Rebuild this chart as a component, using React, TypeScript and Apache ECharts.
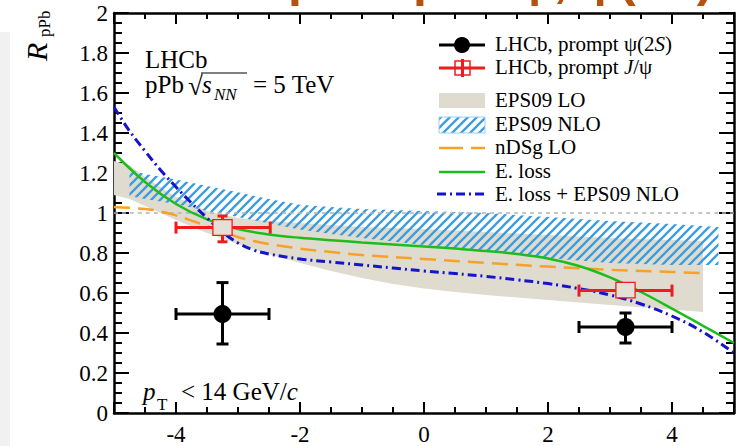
import React, { useEffect, useRef } from 'react';
import * as echarts from 'echarts';

// ---- data: LHCb prompt psi(2S)
const psiX = [-3.25, 3.25];
const psiY = [0.495, 0.43];
const psiXLo = [-4.0, 2.5];
const psiXHi = [-2.5, 4.0];
const psiYLo = [0.345, 0.35];
const psiYHi = [0.652, 0.5];

// ---- data: LHCb prompt J/psi
const jpsiX = [-3.25, 3.25];
const jpsiY = [0.927, 0.612];
const jpsiXLo = [-4.0, 2.5];
const jpsiXHi = [-2.48, 4.0];
const jpsiYLo = [0.856, 0.6];
const jpsiYHi = [0.985, 0.63];
const jpsiSysLo = [0.888, 0.576];
const jpsiSysHi = [0.967, 0.653];

// ---- EPS09 LO band
const loX = [-5, -4.75, -4.5, -4, -3.5, -3, -2.5, -2, -1.5, -1, -0.5, 0, 0.5, 1, 2, 3, 4, 4.5];
const loLow = [1.09, 1.07, 1.035, 0.965, 0.9, 0.845, 0.795, 0.75, 0.71, 0.675, 0.645, 0.622, 0.605, 0.59, 0.565, 0.54, 0.517, 0.505];
const loHigh = [1.26, 1.24, 1.18, 1.08, 1.01, 0.975, 0.96, 0.95, 0.94, 0.93, 0.925, 0.92, 0.912, 0.905, 0.89, 0.875, 0.865, 0.86];

// ---- EPS09 NLO band
const nloX = [-4.75, -4.5, -4, -3.5, -3, -2.5, -2, -1.5, -1, 0, 1, 2, 3, 4, 4.75];
const nloLow = [1.085, 1.07, 1.045, 1.01, 0.98, 0.948, 0.917, 0.895, 0.875, 0.84, 0.81, 0.775, 0.75, 0.74, 0.74];
const nloHigh = [1.215, 1.195, 1.168, 1.135, 1.104, 1.07, 1.041, 1.03, 1.02, 1.01, 1.0, 0.98, 0.96, 0.945, 0.93];

// ---- nDSg LO
const ndsgX = [-5, -4.5, -4.25, -4, -3.75, -3.5, -3.25, -3, -2.75, -2.5, -2, -1.5, -1, 0, 1, 2, 3, 4, 4.5];
const ndsgY = [1.03, 1.02, 1.008, 0.988, 0.962, 0.935, 0.906, 0.88, 0.86, 0.845, 0.822, 0.805, 0.79, 0.77, 0.75, 0.732, 0.716, 0.705, 0.7];

// ---- E. loss
const elossX = [-5, -4.5, -4, -3.5, -3, -2.5, -2, -1.5, -1, -0.5, 0, 0.5, 1, 1.5, 2, 2.5, 3, 3.5, 4, 4.5, 5];
const elossY = [1.3, 1.155, 1.045, 0.968, 0.92, 0.893, 0.876, 0.864, 0.853, 0.843, 0.833, 0.822, 0.81, 0.795, 0.773, 0.735, 0.678, 0.605, 0.522, 0.436, 0.35];

// ---- E. loss + EPS09 NLO
const elNloX = [-5, -4.75, -4.5, -4.25, -4, -3.75, -3.5, -3.25, -3, -2.75, -2.5, -2, -1.5, -1, -0.5, 0, 0.5, 1, 1.5, 2, 2.5, 3, 3.5, 4, 4.5, 5];
const elNloY = [1.53, 1.41, 1.31, 1.215, 1.13, 1.05, 0.975, 0.905, 0.85, 0.815, 0.795, 0.77, 0.755, 0.74, 0.725, 0.71, 0.697, 0.683, 0.666, 0.647, 0.622, 0.59, 0.545, 0.485, 0.405, 0.3];

// ---- reference line at unity
const refX = [-5, 5];
const refY = [1, 1];

const SERIF = '"Liberation Serif", "Times New Roman", serif';
const GRAY = '#dfdbcf';
const BLUE_HATCH = '#3a9de0';
const ORANGE = '#f5a12a';
const GREEN = '#1ebd1e';
const BLUE = '#1414cc';
const RED = '#ee1c1c';

const hatchSvg =
  '<svg xmlns="http://www.w3.org/2000/svg" width="9" height="9">' +
  '<path d="M-2,2 L2,-2 M0,9 L9,0 M7,11 L11,7" stroke="' + BLUE_HATCH + '" stroke-width="2.3" fill="none"/></svg>';
const hatchUrl = 'data:image/svg+xml;charset=utf-8,' + encodeURIComponent(hatchSvg);
const hatchFill: any = { image: hatchUrl, repeat: 'repeat', imageWidth: 9, imageHeight: 9 };

const zip = (xs: number[], ys: number[]) => xs.map((x, i) => [x, ys[i]]);

function bandSeries(name: string, xs: number[], lo: number[], hi: number[], fill: any, z: number) {
  return {
    type: 'custom',
    name,
    z,
    silent: true,
    data: xs.map((x, i) => [x, lo[i], hi[i]]),
    encode: { x: 0, y: [1, 2] },
    renderItem: (params: any, api: any) => {
      if (params.dataIndex !== 0) return null;
      const pts: number[][] = [];
      for (let i = 0; i < xs.length; i++) pts.push(api.coord([xs[i], hi[i]]));
      for (let i = xs.length - 1; i >= 0; i--) pts.push(api.coord([xs[i], lo[i]]));
      return { type: 'polygon', shape: { points: pts }, style: { fill, stroke: null } };
    },
  };
}

const txt = (text: string, x: number, y: number, font: string, extra: any = {}) => ({
  type: 'text',
  x,
  y,
  z: 100,
  style: { text, font, fill: '#000', textAlign: 'left', textVerticalAlign: 'middle', ...extra },
});

const gline = (x1: number, y1: number, x2: number, y2: number, stroke: string, lineWidth: number, lineDash?: number[]) => ({
  type: 'line',
  z: 100,
  shape: { x1, y1, x2, y2 },
  style: { stroke, lineWidth, lineDash },
});

export default function App() {
  const ref = useRef<HTMLDivElement>(null);
  useEffect(() => {
    document.body.style.margin = '0';
    if (!ref.current) return;
    const chart = echarts.init(ref.current, undefined, { renderer: 'svg' });

    const axisLine = { show: true, onZero: false, lineStyle: { color: '#000', width: 2.5 } };
    const tickStyle = { color: '#000', width: 2 };
    const xAxisBase = {
      type: 'value',
      min: -5,
      max: 5,
      splitNumber: 5,
      axisLine,
      splitLine: { show: false },
      axisTick: { show: true, inside: true, length: 11, lineStyle: tickStyle },
      minorTick: { show: true, splitNumber: 4, length: 6, lineStyle: tickStyle },
    };
    const yAxisBase = {
      type: 'value',
      min: 0,
      max: 2,
      interval: 0.2,
      axisLine,
      splitLine: { show: false },
      axisTick: { show: true, inside: true, length: 15, lineStyle: tickStyle },
      minorTick: { show: true, splitNumber: 4, length: 8, lineStyle: tickStyle },
    };
    const labelStyle = { fontSize: 23, fontFamily: SERIF, color: '#000' };

    const lineSeries = (name: string, xs: number[], ys: number[], color: string, width: number, type: any, z: number) => ({
      type: 'line',
      name,
      z,
      data: zip(xs, ys),
      smooth: 0.4,
      showSymbol: false,
      symbol: 'none',
      silent: true,
      lineStyle: { color, width, type },
    });

    const option: any = {
      animation: false,
      grid: { left: 114, right: 10, top: 13, bottom: 29, containLabel: false },
      xAxis: [
        {
          ...xAxisBase,
          position: 'bottom',
          axisLabel: { ...labelStyle, margin: 10, showMinLabel: false, showMaxLabel: false },
        },
        { ...xAxisBase, position: 'top', axisLabel: { show: false } },
      ],
      yAxis: [
        { ...yAxisBase, position: 'left', axisLabel: { ...labelStyle, margin: 6 } },
        { ...yAxisBase, position: 'right', axisLabel: { show: false } },
      ],
      series: [
        bandSeries('EPS09 LO', loX, loLow, loHigh, GRAY, 1),
        bandSeries('EPS09 NLO', nloX, nloLow, nloHigh, hatchFill, 2),
        lineSeries('unity', refX, refY, '#b4b4b4', 1.5, [4, 4], 3),
        lineSeries('nDSg LO', ndsgX, ndsgY, ORANGE, 2.5, [16, 8], 4),
        lineSeries('E. loss', elossX, elossY, GREEN, 2.5, 'solid', 5),
        lineSeries('E. loss + EPS09 NLO', elNloX, elNloY, BLUE, 3, [9, 4, 2, 4], 6),
        {
          type: 'custom',
          name: 'LHCb, prompt J/psi',
          z: 10,
          silent: true,
          data: zip(jpsiX, jpsiY),
          encode: { x: 0, y: 1 },
          renderItem: (params: any, api: any) => {
            const i = params.dataIndex;
            const l = api.coord([jpsiXLo[i], jpsiY[i]]);
            const r = api.coord([jpsiXHi[i], jpsiY[i]]);
            const t = api.coord([jpsiX[i], jpsiYHi[i]]);
            const b = api.coord([jpsiX[i], jpsiYLo[i]]);
            const bl = api.coord([jpsiX[i] - 0.155, jpsiSysLo[i]]);
            const tr = api.coord([jpsiX[i] + 0.155, jpsiSysHi[i]]);
            const st = { stroke: RED, lineWidth: 3 };
            const ln = (x1: number, y1: number, x2: number, y2: number) => ({ type: 'line', shape: { x1, y1, x2, y2 }, style: st });
            const ch: any[] = [
              ln(l[0], l[1], bl[0], l[1]),
              ln(tr[0], r[1], r[0], r[1]),
              ln(l[0], l[1] - 6, l[0], l[1] + 6),
              ln(r[0], r[1] - 6, r[0], r[1] + 6),
            ];
            if (t[1] < tr[1]) {
              ch.push(ln(t[0], t[1], t[0], tr[1]));
              ch.push(ln(t[0] - 5, t[1], t[0] + 5, t[1]));
            }
            if (b[1] > bl[1]) {
              ch.push(ln(b[0], bl[1], b[0], b[1]));
              ch.push(ln(b[0] - 5, b[1], b[0] + 5, b[1]));
            }
            ch.push({
              type: 'rect',
              shape: { x: bl[0], y: tr[1], width: tr[0] - bl[0], height: bl[1] - tr[1] },
              style: { fill: '#e4e0d5', stroke: RED, lineWidth: 1.3 },
            });
            return { type: 'group', children: ch };
          },
        },
        {
          type: 'custom',
          name: 'LHCb, prompt psi(2S)',
          z: 11,
          silent: true,
          data: zip(psiX, psiY),
          encode: { x: 0, y: 1 },
          renderItem: (params: any, api: any) => {
            const i = params.dataIndex;
            const c = api.coord([psiX[i], psiY[i]]);
            const l = api.coord([psiXLo[i], psiY[i]]);
            const r = api.coord([psiXHi[i], psiY[i]]);
            const t = api.coord([psiX[i], psiYHi[i]]);
            const b = api.coord([psiX[i], psiYLo[i]]);
            const st = { stroke: '#000', lineWidth: 3 };
            const ln = (x1: number, y1: number, x2: number, y2: number) => ({ type: 'line', shape: { x1, y1, x2, y2 }, style: st });
            return {
              type: 'group',
              children: [
                ln(l[0], l[1], r[0], r[1]),
                ln(t[0], t[1], b[0], b[1]),
                ln(l[0], l[1] - 6, l[0], l[1] + 6),
                ln(r[0], r[1] - 6, r[0], r[1] + 6),
                ln(t[0] - 6, t[1], t[0] + 6, t[1]),
                ln(b[0] - 6, b[1], b[0] + 6, b[1]),
                { type: 'circle', shape: { cx: c[0], cy: c[1], r: 9 }, style: { fill: '#000' } },
              ],
            };
          },
        },
      ],
      graphic: {
        elements: [
          { type: 'rect', z: 0, shape: { x: 0, y: 32, width: 10, height: 414 }, style: { fill: '#f1f1f1' } },
          // cropped slide title (only its lower edge is visible, as in the reference)
          {
            type: 'text',
            x: 288,
            y: -21,
            z: 100,
            style: {
              text: 'prompt J/ψ, ψ(2S)',
              font: 'bold 50px "Liberation Sans", Arial, sans-serif',
              fill: '#b5520f',
              textAlign: 'left',
              textVerticalAlign: 'middle',
            },
          },
          // y-axis title R_pPb (rotated)
          { type: 'text', x: 36, y: 61, rotation: Math.PI / 2, z: 100, style: { text: 'R', font: 'italic 30px ' + SERIF, fill: '#000', textAlign: 'left', textVerticalAlign: 'middle' } },
          { type: 'text', x: 44.5, y: 37, rotation: Math.PI / 2, z: 100, style: { text: 'pPb', font: '17px ' + SERIF, fill: '#000', textAlign: 'left', textVerticalAlign: 'middle' } },
          // LHCb labels
          txt('LHCb', 145, 59.5, '25px ' + SERIF),
          txt('pPb', 145, 84.5, '25px ' + SERIF),
          txt('√', 188, 86, '27px ' + SERIF),
          gline(201, 73, 247, 73, '#000', 1.2),
          txt('s', 202, 84.5, 'italic 25px ' + SERIF),
          txt('NN', 214, 94.5, 'italic 17px ' + SERIF),
          txt('= 5 TeV', 253, 84.5, '25px ' + SERIF),
          // pT label
          txt('p', 143, 391, 'italic 25px ' + SERIF),
          txt('T', 157, 404, '17px ' + SERIF),
          txt('< 14 GeV/{c|c}', 181, 391, '25px ' + SERIF, { rich: { c: { font: 'italic 25px ' + SERIF, fill: '#000' } } }),
          // legend
          gline(439, 45, 485, 45, '#000', 3),
          { type: 'circle', z: 100, shape: { cx: 462, cy: 45, r: 8 }, style: { fill: '#000' } },
          txt('LHCb, prompt ψ(2{i|S})', 495, 44, '21px ' + SERIF, { rich: { i: { font: 'italic 21px ' + SERIF, fill: '#000' } } }),
          gline(439, 68, 485, 68, RED, 3),
          { type: 'rect', z: 100, shape: { x: 455, y: 61, width: 15, height: 14 }, style: { fill: '#fff', stroke: RED, lineWidth: 1.5 } },
          gline(455, 68, 470, 68, RED, 3),
          gline(462.5, 59, 462.5, 77, RED, 3),
          txt('LHCb, prompt {i|J}/ψ', 495, 67, '21px ' + SERIF, { rich: { i: { font: 'italic 21px ' + SERIF, fill: '#000' } } }),
          { type: 'rect', z: 100, shape: { x: 439, y: 93, width: 46, height: 15 }, style: { fill: GRAY } },
          txt('EPS09 LO', 495, 100, '21px ' + SERIF),
          { type: 'rect', z: 100, shape: { x: 439, y: 117, width: 46, height: 16 }, style: { fill: hatchFill, stroke: '#9fd0f2', lineWidth: 1 } },
          txt('EPS09 NLO', 495, 124, '21px ' + SERIF),
          gline(439, 148, 485, 148, ORANGE, 2.5, [24, 8]),
          txt('nDSg LO', 495, 147, '21px ' + SERIF),
          gline(439, 172, 485, 172, GREEN, 2.5),
          txt('E. loss', 495, 171, '21px ' + SERIF),
          gline(437, 194, 485, 194, BLUE, 3, [9, 4, 2, 4]),
          txt('E. loss + EPS09 NLO', 495, 194, '21px ' + SERIF),
        ],
      },
    };
    chart.setOption(option);
    return () => chart.dispose();
  }, []);
  return <div ref={ref} style={{ width: 744, height: 446 }} />;
}
